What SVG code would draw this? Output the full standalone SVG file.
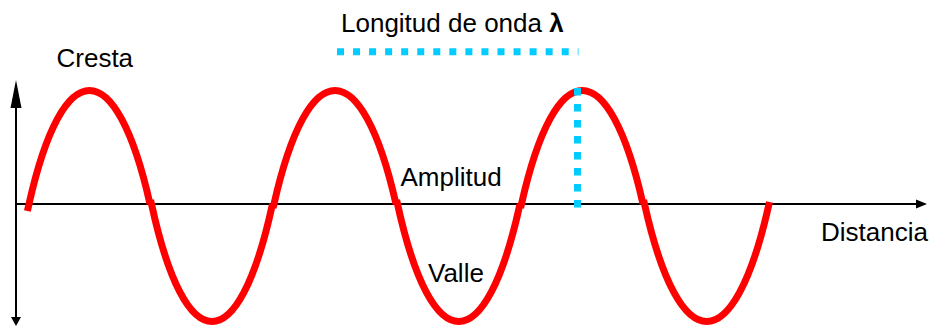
<svg xmlns="http://www.w3.org/2000/svg" width="933" height="326" viewBox="0 0 933 326">
  <style>
    .lbl { font-family: "Liberation Sans", Arial, sans-serif; font-size: 26px; fill: #000; }
    .axis { stroke: #000; stroke-width: 2; fill: none; }
    .wave { stroke: #FF0000; stroke-width: 7; fill: none; stroke-linecap: butt; stroke-linejoin: round; }
    .dots { stroke: #00CCFF; stroke-width: 7; fill: none; }
  </style>
  <rect width="933" height="326" fill="#fff"/>
  <g id="axes">
    <line class="axis" x1="16" y1="104" x2="16" y2="318"/>
    <polygon points="16,80 10.5,108 21.5,108" fill="#000"/>
    <polygon points="11,317 21,317 16,326" fill="#000"/>
    <line class="axis" x1="16" y1="204" x2="917" y2="204"/>
    <polygon points="916,199.5 927,204 916,208.5" fill="#000"/>
  </g>
  <g id="wave">
    <path class="wave" d="M27.4 211 L29 204 C62.9 52.7 116.1 52.7 150 204"/>
    <path class="wave" d="M150.6 200 L151.5 204 C185.4 360.7 238.6 360.7 272.5 204"/>
    <path class="wave" d="M273.1 208 L274 204 C308.2 52.7 361.8 52.7 396 204"/>
    <path class="wave" d="M396.6 200 L397.5 204 C431.8 360.7 485.7 360.7 520 204"/>
    <path class="wave" d="M520.6 208 L521.5 204 C555.5 52.7 609 52.7 643 204"/>
    <path class="wave" d="M643.6 200 L644.5 204 C679.4 360.7 734.1 360.7 769 204 L769.5 202"/>
  </g>
  <g id="wavelength">
    <line class="dots" x1="337" y1="51.7" x2="578.5" y2="51.7" stroke-dasharray="7 9.05"/>
    <line class="dots" x1="577.5" y1="88" x2="577.5" y2="208" stroke-width="8" stroke-dasharray="7.5 8.5"/>
  </g>
  <g id="labels">
    <text class="lbl" x="56.5" y="67">Cresta</text>
    <text class="lbl" x="341" y="32">Longitud de onda <tspan font-weight="bold">λ</tspan></text>
    <text class="lbl" x="400.5" y="185.5">Amplitud</text>
    <text class="lbl" x="428" y="282">Valle</text>
    <text class="lbl" x="821" y="241">Distancia</text>
  </g>
</svg>
